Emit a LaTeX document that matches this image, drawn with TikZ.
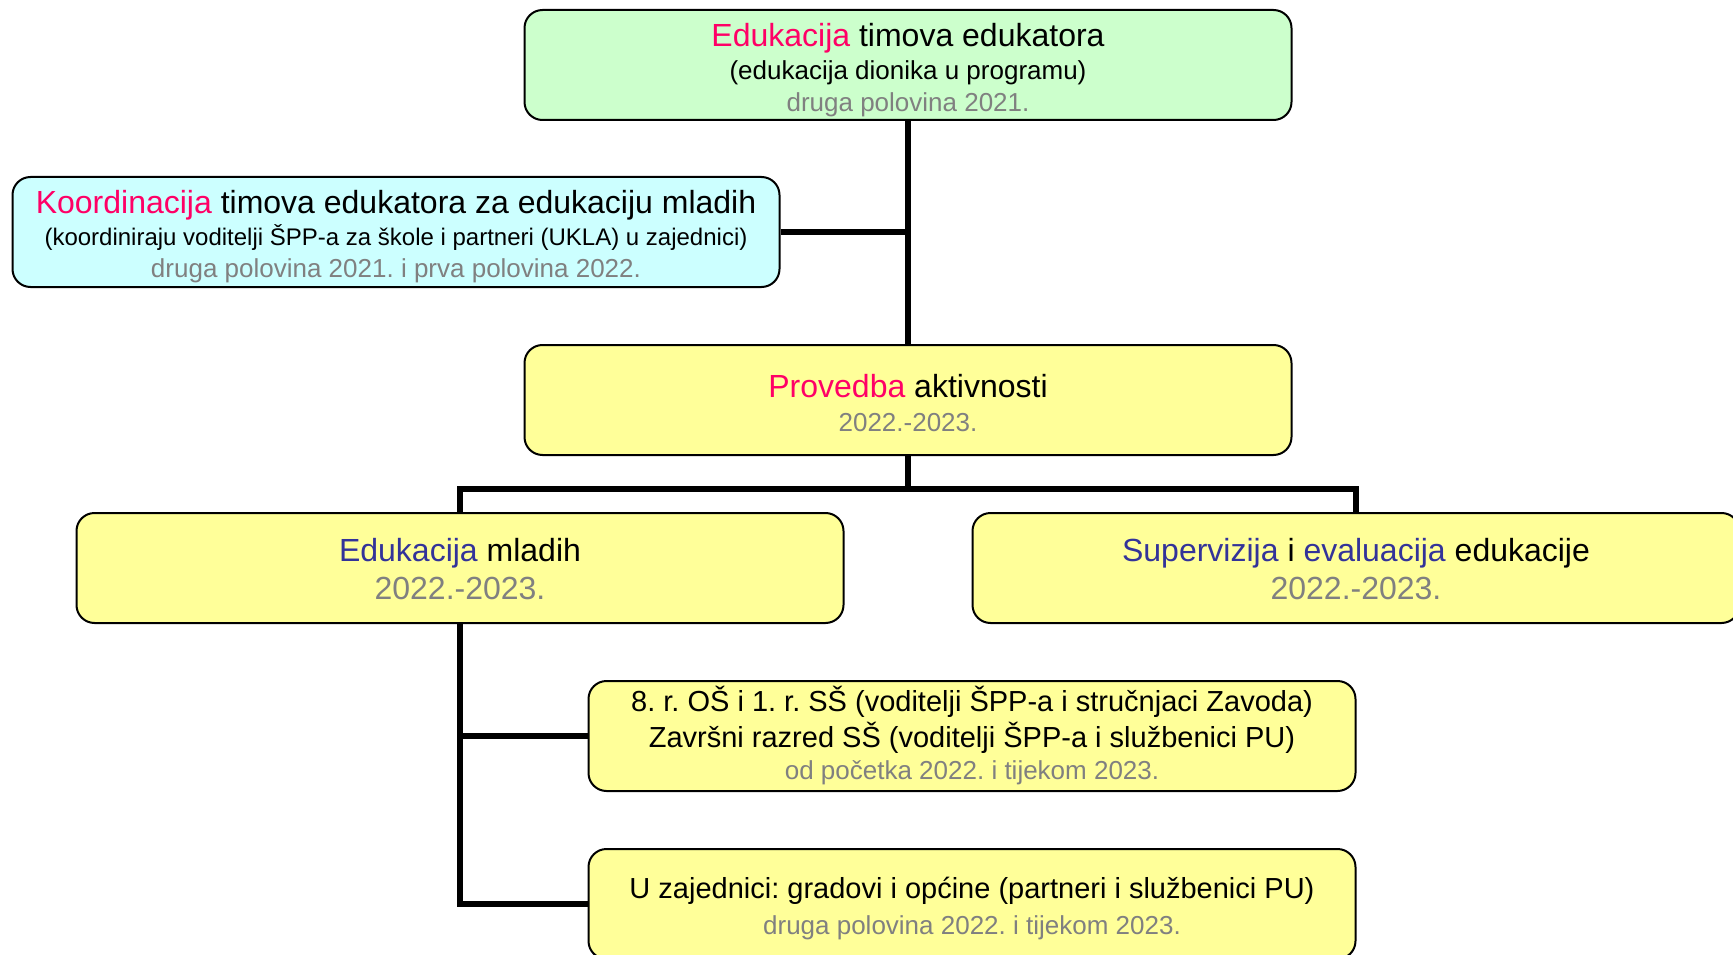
\documentclass[tikz,border=0pt]{standalone}
\usepackage{fontspec}
\setmainfont{Liberation Sans}
\usetikzlibrary{positioning}

\definecolor{hotpink}{HTML}{FF0066}
\definecolor{navy}{HTML}{333399}
\definecolor{datum}{HTML}{808080}
\definecolor{mint}{HTML}{CCFFCC}
\definecolor{aqua}{HTML}{CCFFFF}
\definecolor{lemon}{HTML}{FFFF99}

\newcommand{\titlesize}{\fontsize{32}{36}\selectfont}
\newcommand{\midsize}{\fontsize{29}{34}\selectfont}
\newcommand{\notesize}{\fontsize{24}{29}\selectfont}
\newcommand{\datesize}{\fontsize{26}{32}\selectfont}
% pushes the text of a box down a little
\newcommand{\lift}[1]{\rule{0pt}{\dimexpr 0.75em+#1\relax}}
\frenchspacing

\begin{document}
\begin{tikzpicture}[x=1pt,y=-1pt,
			box/.style={draw,rounded corners=18pt,line width=2pt,minimum width=767pt,
				minimum height=110pt,inner sep=0pt,align=center,font=\datesize},
			conn/.style={line width=6.5pt}]
			\useasboundingbox (0,0) rectangle (1733,955);

			\node (edu) [box,fill=mint] at (908,65) {%
				{\titlesize\lift{10pt}\textcolor{hotpink}{Edukacija} timova edukatora}\\[1pt]
				(edukacija dionika u programu)\\
				\textcolor{datum}{druga polovina 2021.}};

			\node (koord) [box,fill=aqua] at (396,232) {%
				{\titlesize\lift{9pt}\textcolor{hotpink}{Koordinacija} timova edukatora za edukaciju mladih}\\
				{\notesize (koordiniraju voditelji ŠPP-a za škole i partneri (UKLA) u zajednici)}\\
				\textcolor{datum}{druga polovina 2021. i prva polovina 2022.}};

			\node (prov) [box,fill=lemon] at (908,400) {%
				{\titlesize\lift{6pt}\textcolor{hotpink}{Provedba} aktivnosti}\\[2pt]
				\textcolor{datum}{2022.-2023.}};

			\node (mladi) [box,fill=lemon] at (460,568) {%
				{\titlesize\lift{2pt}\textcolor{navy}{Edukacija} mladih}\\[6pt]
				{\titlesize\textcolor{datum}{2022.-2023.}}};

			\node (superv) [box,fill=lemon] at (1356,568) {%
				{\titlesize\lift{2pt}\textcolor{navy}{Supervizija} i \textcolor{navy}{evaluacija} edukacije}\\[6pt]
				{\titlesize\textcolor{datum}{2022.-2023.}}};

			\node (skole) [box,fill=lemon] at (972,736) {%
				{\midsize 8. r. OŠ i 1. r. SŠ (voditelji ŠPP-a i stručnjaci Zavoda)}\\[4pt]
				{\midsize Završni razred SŠ (voditelji ŠPP-a i službenici PU)}\\
				\textcolor{datum}{od početka 2022. i tijekom 2023.}};

			\node (zajed) [box,fill=lemon] at (972,904) {%
				{\midsize\lift{9pt}U zajednici: gradovi i općine (partneri i službenici PU)}\\[4pt]
				\textcolor{datum}{druga polovina 2022. i tijekom 2023.}};

			% veze
			\coordinate (bar) at (908,489);
			\draw[conn] (edu.south) -- (prov.north);
			\draw[conn] (koord.east) -- (koord.east -| edu.south);
			\draw[conn] (prov.south) -- (bar);
			\draw[conn] (mladi.north) |- (bar) -| (superv.north);
			\draw[conn] (mladi.south) |- (skole.west);
			\draw[conn] (mladi.south) |- (zajed.west);
		\end{tikzpicture}
\end{document}
